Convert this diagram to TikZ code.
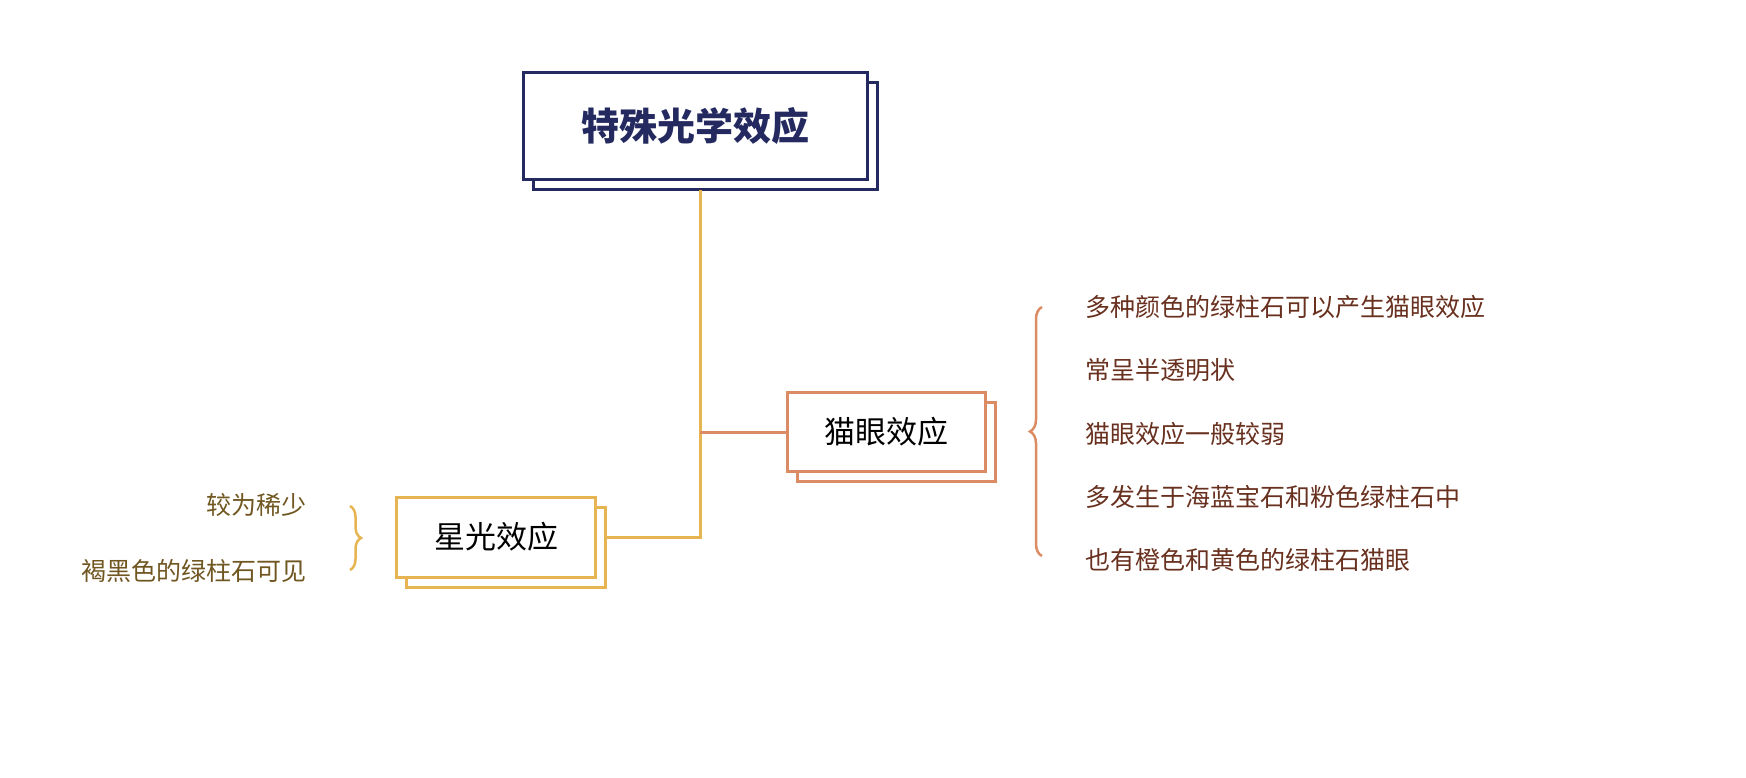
\documentclass[tikz,border=0pt]{standalone}
\usepackage{fontspec}
\setmainfont{Noto Sans CJK SC}
\usetikzlibrary{positioning, shadows, decorations.pathreplacing}
\definecolor{rootnavy}{RGB}{36,42,96}
\definecolor{staryellow}{RGB}{230,180,80}
\definecolor{catorange}{RGB}{220,140,100}
\definecolor{starleaf}{RGB}{112,86,32}
\definecolor{catleaf}{RGB}{104,48,30}
\tikzset{
  topic/.style={draw=#1, line width=3pt, fill=white, inner sep=0pt,
    copy shadow={shadow xshift=10pt, shadow yshift=-10pt, draw=#1, fill=white, line width=3pt}},
  leaf/.style={text=#1, font=\fontsize{25}{30}\selectfont, inner sep=0pt}
}
\begin{document}
\begin{tikzpicture}[x=1pt, y=-1pt]
    \useasboundingbox (0,0) rectangle (1746,777);
    % root
    \node[topic=rootnavy, minimum width=344pt, minimum height=107pt,
      font=\fontsize{38}{44}\selectfont\bfseries, text=rootnavy] (root) at (695,126) {特殊光学效应};
    \coordinate (trunk) at (700,190);
    % branches
    \node[topic=catorange, minimum width=198pt, minimum height=79pt,
      font=\fontsize{31}{36}\selectfont] (cat) at (886,432) {猫眼效应};
    \node[topic=staryellow, minimum width=199pt, minimum height=80pt,
      font=\fontsize{31}{36}\selectfont] (star) at (496,537) {星光效应};
    \draw[staryellow, line width=3pt] (trunk) -- (trunk |- star.east) -- ([xshift=10pt]star.east);
    \draw[catorange, line width=3pt] (trunk |- cat.west) -- (cat.west);
    % star leaves
    \draw[staryellow, line width=2.5pt, decorate, decoration={brace, amplitude=11pt}]
      (350,506) -- (350,570);
    \node[leaf=starleaf, anchor=east] (rare) at (307,505) {较为稀少};
    \node[leaf=starleaf, anchor=east] (brown) at (307,571) {褐黑色的绿柱石可见};
    % cat leaves
    \draw[catorange, line width=2.5pt, decorate, decoration={brace, amplitude=12pt}]
      (1042,556) -- (1042,307);
    \foreach \t [count=\i] in {多种颜色的绿柱石可以产生猫眼效应, 常呈半透明状, 猫眼效应一般较弱,
        多发生于海蓝宝石和粉色绿柱石中, 也有橙色和黄色的绿柱石猫眼}
      \node[leaf=catleaf, anchor=west] (c\i) at (1085,{307+63.3*(\i-1)}) {\t};
\end{tikzpicture}
\end{document}
